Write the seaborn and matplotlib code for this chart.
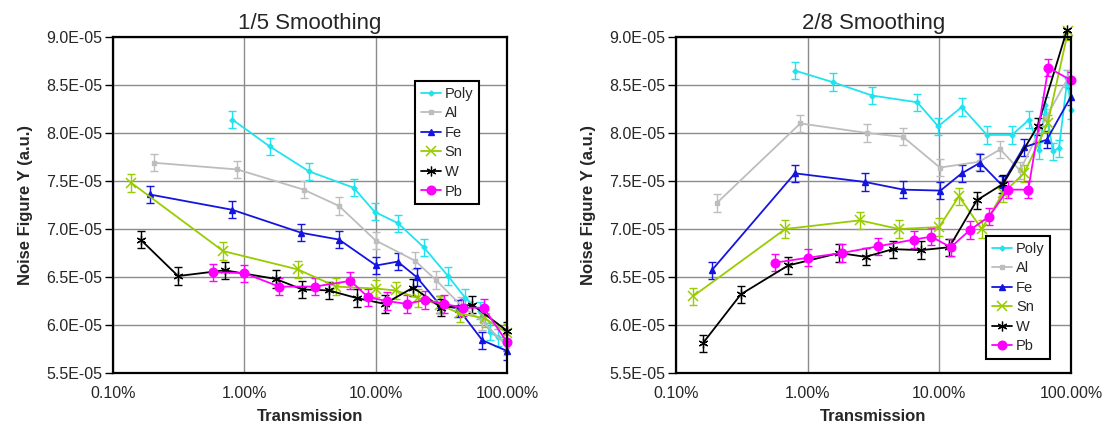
import numpy as np
import pandas as pd
import matplotlib
matplotlib.use("Agg")
import matplotlib.pyplot as plt
import seaborn as sns
from matplotlib.ticker import FuncFormatter, FixedLocator, NullLocator

# ---------------- data (x in % transmission, y in units of 1E-05) ----------------
SERIES = ["Poly", "Al", "Fe", "Sn", "W", "Pb"]
TITLES = ["1/5 Smoothing", "2/8 Smoothing"]
X_TICKS = [0.1, 1.0, 10.0, 100.0]
Y_TICKS = [5.5, 6.0, 6.5, 7.0, 7.5, 8.0, 8.5, 9.0]
ERR = 0.09

# 1/5 smoothing
L_POLY_X = [0.81, 1.56, 3.11, 6.8, 9.8, 14.8, 23.2, 35.6, 48.3, 62, 74, 85.5, 100]
L_POLY_Y = [8.14, 7.86, 7.60, 7.43, 7.18, 7.06, 6.81, 6.51, 6.28, 6.15, 5.93, 5.87, 5.82]
L_AL_X = [0.205, 0.885, 2.83, 5.26, 10, 19.9, 28.7, 45, 65, 100]
L_AL_Y = [7.69, 7.62, 7.41, 7.24, 6.88, 6.67, 6.47, 6.20, 6.04, 5.78]
L_FE_X = [0.19, 0.81, 2.72, 5.26, 10.1, 14.7, 20.5, 30.8, 42.5, 65, 100]
L_FE_Y = [7.36, 7.20, 6.96, 6.89, 6.62, 6.66, 6.50, 6.21, 6.17, 5.84, 5.73]
L_SN_X = [0.138, 0.69, 2.54, 5.02, 10, 14.2, 21, 30.8, 43.7, 67.8, 100]
L_SN_Y = [7.48, 6.77, 6.58, 6.40, 6.38, 6.36, 6.28, 6.21, 6.12, 6.07, 5.92]
L_W_X = [0.162, 0.313, 0.71, 1.73, 2.77, 4.41, 7.2, 11.7, 19.3, 31.7, 54.6, 100]
L_W_Y = [6.89, 6.51, 6.57, 6.48, 6.37, 6.36, 6.28, 6.22, 6.39, 6.18, 6.21, 5.94]
L_PB_X = [0.58, 1.0, 1.84, 3.44, 6.43, 8.75, 12.1, 17.2, 23.7, 33, 46.4, 66.5, 100]
L_PB_Y = [6.55, 6.54, 6.40, 6.40, 6.46, 6.29, 6.25, 6.22, 6.26, 6.22, 6.18, 6.18, 5.82]

# 2/8 smoothing
R_POLY_X = [0.80, 1.55, 3.09, 6.8, 9.8, 14.8, 23, 35.6, 48.2, 57.5, 64, 72.8, 81, 94, 100]
R_POLY_Y = [8.65, 8.53, 8.39, 8.32, 8.07, 8.27, 7.98, 7.98, 8.14, 7.82, 8.29, 7.81, 7.84, 8.57, 8.24]
R_AL_X = [0.204, 0.88, 2.83, 5.3, 10.1, 20, 29, 41, 64.6, 94.6]
R_AL_Y = [7.27, 8.10, 8.00, 7.96, 7.64, 7.70, 7.83, 7.61, 8.16, 8.57]
R_FE_X = [0.187, 0.80, 2.72, 5.33, 10.2, 14.8, 20.4, 29.7, 43.6, 65.5, 100]
R_FE_Y = [6.57, 7.58, 7.49, 7.41, 7.40, 7.58, 7.69, 7.46, 7.85, 7.93, 8.38]
R_SN_X = [0.135, 0.676, 2.49, 4.93, 9.96, 14.1, 21, 30.2, 44, 66.5, 95]
R_SN_Y = [6.30, 7.00, 7.09, 7.00, 7.02, 7.34, 7.00, 7.37, 7.58, 8.10, 9.06]
R_W_X = [0.16, 0.311, 0.71, 1.74, 2.75, 4.44, 7.3, 11.9, 19.3, 30.5, 55.8, 93]
R_W_Y = [5.81, 6.32, 6.62, 6.75, 6.71, 6.79, 6.78, 6.81, 7.30, 7.47, 8.07, 9.07]
R_PB_X = [0.568, 1.0, 1.81, 3.44, 6.4, 8.7, 12.2, 17.1, 23.9, 33.1, 47.4, 67.3, 100]
R_PB_Y = [6.65, 6.70, 6.75, 6.82, 6.89, 6.92, 6.81, 6.99, 7.13, 7.41, 7.41, 8.68, 8.55]

LEFT = {"Poly": (L_POLY_X, L_POLY_Y), "Al": (L_AL_X, L_AL_Y), "Fe": (L_FE_X, L_FE_Y),
        "Sn": (L_SN_X, L_SN_Y), "W": (L_W_X, L_W_Y), "Pb": (L_PB_X, L_PB_Y)}
RIGHT = {"Poly": (R_POLY_X, R_POLY_Y), "Al": (R_AL_X, R_AL_Y), "Fe": (R_FE_X, R_FE_Y),
         "Sn": (R_SN_X, R_SN_Y), "W": (R_W_X, R_W_Y), "Pb": (R_PB_X, R_PB_Y)}

# ---------------- styles ----------------
COLORS = {"Poly": "#1fe4ef", "Al": "#bdbdbd", "Fe": "#1414e0", "Sn": "#99cc00",
          "W": "#000000", "Pb": "#ff00ff"}
MARKERS = {"Poly": "D", "Al": "s", "Fe": "^", "Sn": "x", "W": (6, 2, 0), "Pb": "o"}
MSIZE = {"Poly": 2.6, "Al": 3.3, "Fe": 4.3, "Sn": 6.5, "W": 7, "Pb": 6.2}
MEW = {"Poly": 1.0, "Al": 1.0, "Fe": 1.0, "Sn": 1.1, "W": 0.9, "Pb": 1.0}

sns.set_theme(style="white")
plt.rcParams["font.family"] = ["Liberation Sans", "DejaVu Sans"]

fig = plt.figure(figsize=(11.07, 4.28), dpi=100)
ax_l = fig.add_axes([113 / 1107, 55 / 428, 394 / 1107, 336 / 428])
ax_r = fig.add_axes([676 / 1107, 55 / 428, 395 / 1107, 336 / 428])

legend_pos = [(0.766, 0.869), (0.785, 0.408)]

for ax, data, title, lpos in zip([ax_l, ax_r], [LEFT, RIGHT], TITLES, legend_pos):
    handles = []
    for name in SERIES:
        xs, ys = data[name]
        df = pd.DataFrame({"x": xs, "y": np.array(ys) * 1e-5})
        c = COLORS[name]
        ax.errorbar(df["x"], df["y"], yerr=ERR * 1e-5, fmt="none", ecolor=c,
                    elinewidth=1.0, capsize=2.6, capthick=1.0, zorder=3)
        sns.lineplot(data=df, x="x", y="y", ax=ax, color=c, marker=MARKERS[name],
                     markersize=MSIZE[name], markeredgecolor=c, markerfacecolor=c,
                     markeredgewidth=MEW[name], linewidth=1.3, sort=False,
                     errorbar=None, estimator=None, label=name, zorder=4)
        line = ax.lines[-1]
        line.set_clip_on(False)
        handles.append(line)

    ax.set_xscale("log")
    ax.set_xlim(0.1, 100)
    ax.set_ylim(5.5e-5, 9.0e-5)
    ax.xaxis.set_major_locator(FixedLocator(X_TICKS))
    ax.xaxis.set_minor_locator(NullLocator())
    ax.xaxis.set_major_formatter(FuncFormatter(lambda v, _: f"{v:.2f}%"))
    ax.yaxis.set_major_locator(FixedLocator([v * 1e-5 for v in Y_TICKS]))
    ax.yaxis.set_major_formatter(FuncFormatter(lambda v, _: f"{v:.1E}"))

    ax.grid(True, which="major", color="#8c8c8c", linewidth=1.0)
    ax.set_axisbelow(True)
    for sp in ax.spines.values():
        sp.set_visible(True)
        sp.set_color("black")
        sp.set_linewidth(1.6)
        sp.set_zorder(5)
    ax.tick_params(axis="y", direction="out", length=6, width=1, color="black",
                   pad=2, labelsize=11.5, left=True)
    ax.tick_params(axis="x", length=0, pad=9, labelsize=11.5)

    ax.set_title(title, fontsize=16, pad=6)
    ax.set_xlabel("Transmission", fontsize=12, fontweight="bold", labelpad=6)
    ax.set_ylabel("Noise Figure Y (a.u.)", fontsize=12, fontweight="bold", labelpad=9)

    leg = ax.legend(handles=handles, labels=SERIES, loc="upper left",
                    bbox_to_anchor=lpos, fontsize=10.5, frameon=True, fancybox=False,
                    framealpha=1, edgecolor="black", borderpad=0.4,
                    labelspacing=0.38, handlelength=1.4, handletextpad=0.25,
                    borderaxespad=0)
    leg.get_frame().set_linewidth(1.5)
    leg.set_zorder(10)

fig.savefig("out.png", dpi=100)
